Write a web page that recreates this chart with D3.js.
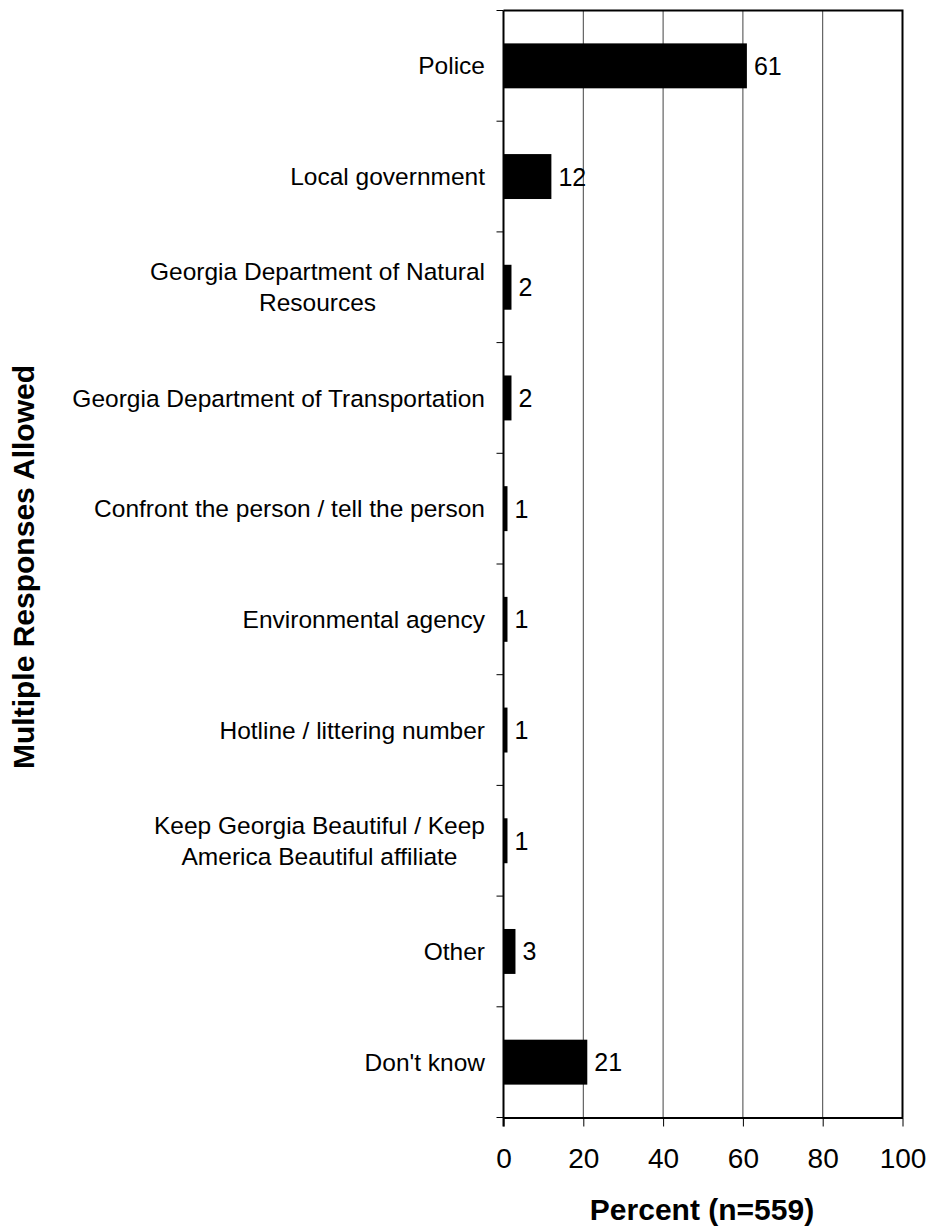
<!DOCTYPE html>
<html>
<head>
<meta charset="utf-8">
<script src="https://cdn.jsdelivr.net/npm/d3@7"></script>
<style>
  html, body { margin: 0; padding: 0; background: #fff; }
  svg { display: block; font-family: Arial, "Liberation Sans", Helvetica, sans-serif; }
</style>
</head>
<body>
<svg id="chart" width="928" height="1228"></svg>
<script>
// Where respondents would report littering (percent, multiple responses allowed)
const categories = [
  ["Police"],
  ["Local government"],
  ["Georgia Department of Natural", "Resources"],
  ["Georgia Department of Transportation"],
  ["Confront the person / tell the person"],
  ["Environmental agency"],
  ["Hotline / littering number"],
  ["Keep Georgia Beautiful / Keep", "America Beautiful affiliate"],
  ["Other"],
  ["Don't know"]
];
const values = [61, 12, 2, 2, 1, 1, 1, 1, 3, 21];
const xTicks = [0, 20, 40, 60, 80, 100];
const xTitle = "Percent (n=559)";
const yTitle = "Multiple Responses Allowed";

const svg = d3.select("#chart");
const plot = { left: 503.5, right: 902.5, top: 10.5, bottom: 1117.5 };

const x = d3.scaleLinear().domain([0, 100]).range([plot.left, plot.right]);
const y = d3.scaleBand()
  .domain(d3.range(categories.length))
  .range([plot.top, plot.bottom])
  .paddingInner(0.594)
  .paddingOuter(0.297);
// category boundaries for the left-axis ticks
const yb = d3.scaleLinear().domain([0, categories.length]).range([plot.top, plot.bottom]);

// vertical gridlines
svg.append("g")
  .selectAll("line")
  .data(xTicks.filter(t => t > 0 && t < 100))
  .join("line")
  .attr("x1", d => x(d)).attr("x2", d => x(d))
  .attr("y1", plot.top).attr("y2", plot.bottom)
  .attr("stroke", "#444").attr("stroke-width", 1);

// bars
svg.append("g")
  .selectAll("rect")
  .data(values)
  .join("rect")
  .attr("x", x(0))
  .attr("y", (d, i) => y(i))
  .attr("width", d => x(d) - x(0))
  .attr("height", y.bandwidth())
  .attr("fill", "#000");

// value labels
svg.append("g")
  .selectAll("text")
  .data(values)
  .join("text")
  .attr("x", d => x(d) + 7)
  .attr("y", (d, i) => y(i) + y.bandwidth() / 2)
  .attr("dy", "0.36em")
  .attr("font-size", 25)
  .attr("fill", "#000")
  .text(d => d);

// top and right frame
svg.append("path")
  .attr("d", `M${plot.left},${plot.top}H${plot.right}V${plot.bottom}`)
  .attr("fill", "none").attr("stroke", "#000").attr("stroke-width", 2);

// x axis
const xAxis = d3.axisBottom(x).tickValues(xTicks).tickSize(9).tickSizeOuter(0).tickPadding(22);
const gx = svg.append("g").attr("transform", `translate(0,${plot.bottom})`).call(xAxis);
gx.select(".domain").attr("stroke-width", 2);
gx.selectAll(".tick line").attr("stroke-width", 1);
gx.selectAll("text").attr("font-size", 28).attr("font-family", "Arial, 'Liberation Sans', sans-serif").attr("fill", "#000");

// y axis line with ticks between categories
const gy = svg.append("g").attr("transform", `translate(${plot.left},0)`);
gy.append("line")
  .attr("x1", 0).attr("x2", 0).attr("y1", plot.top).attr("y2", plot.bottom + 9)
  .attr("stroke", "#000").attr("stroke-width", 2);
gy.selectAll("line.tk")
  .data(d3.range(categories.length + 1))
  .join("line").attr("class", "tk")
  .attr("x1", -7).attr("x2", 0)
  .attr("y1", d => yb(d)).attr("y2", d => yb(d))
  .attr("stroke", "#000").attr("stroke-width", 1);

// category labels, right aligned as a block, lines centred within it
const lineH = 31;
const labels = svg.append("g")
  .selectAll("text")
  .data(categories)
  .join("text")
  .attr("text-anchor", "middle")
  .attr("font-size", 24.5)
  .attr("fill", "#000")
  .each(function(lines, i) {
    const cy = y(i) + y.bandwidth() / 2;
    const t = d3.select(this);
    lines.forEach((l, k) => {
      t.append("tspan")
        .attr("y", cy + (k - (lines.length - 1) / 2) * lineH)
        .attr("dy", "0.35em")
        .text(l);
    });
  });

labels.each(function() {
  const t = d3.select(this);
  const widths = t.selectAll("tspan").nodes().map(s => s.getComputedTextLength());
  const cx = 485 - d3.max(widths) / 2;
  t.selectAll("tspan").attr("x", cx);
});

// axis titles
svg.append("text")
  .attr("x", 702).attr("y", 1220)
  .attr("text-anchor", "middle")
  .attr("font-size", 30).attr("font-weight", "bold")
  .text(xTitle);

svg.append("text")
  .attr("transform", `translate(34,567) rotate(-90)`)
  .attr("text-anchor", "middle")
  .attr("font-size", 30).attr("font-weight", "bold")
  .text(yTitle);
</script>
</body>
</html>
